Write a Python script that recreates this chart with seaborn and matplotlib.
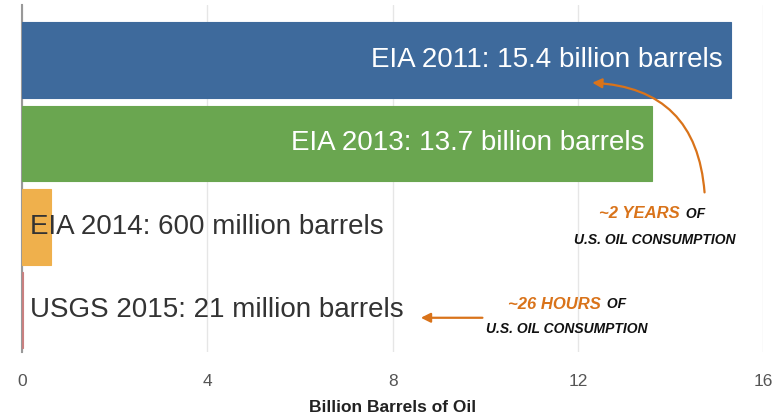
import matplotlib
matplotlib.use("Agg")
import matplotlib.pyplot as plt
import seaborn as sns
import pandas as pd

categories = ["EIA 2011", "EIA 2013", "EIA 2014", "USGS 2015"]
values = [15.3, 13.6, 0.62, 0.03]
labels = ["EIA 2011: 15.4 billion barrels", "EIA 2013: 13.7 billion barrels",
          "EIA 2014: 600 million barrels", "USGS 2015: 21 million barrels"]
colors = ["#3e6a9c", "#6aa650", "#efb04c", "#c98080"]
xticks = [0, 4, 8, 12, 16]

sns.set_theme(style="white")
plt.rcParams['font.family'] = ['Liberation Sans', 'DejaVu Sans']

df = pd.DataFrame({"cat": categories, "val": values})

fig = plt.figure(figsize=(7.76, 4.2), dpi=100)
ax = fig.add_axes([0.0284, 0.162, 0.955, 0.826])

sns.barplot(data=df, x="val", y="cat", hue="cat", palette=colors, legend=False,
            width=0.91, ax=ax, saturation=1, linewidth=0)
for patch, c in zip(ax.patches, colors):
    patch.set_edgecolor(c)
    patch.set_linewidth(0.8)
    patch.set_zorder(3)

ax.set_xlim(0, 16)
ax.set_ylim(3.5, -0.66)
ax.set_xticks(xticks)
ax.set_xticklabels([str(t) for t in xticks], color="#555555", fontsize=12.5,
                   family=['Liberation Sans Narrow', 'Liberation Sans'])
ax.tick_params(axis="x", length=0, pad=16)
ax.set_yticks([])
ax.set_ylabel("")
ax.set_xlabel("Billion Barrels of Oil", fontsize=12.5, fontweight="bold",
              color="#222222", labelpad=8)
ax.grid(axis="x", color="#e6e6e6", linewidth=1)
ax.set_axisbelow(True)
for s in ["top", "right", "bottom"]:
    ax.spines[s].set_visible(False)
ax.spines["left"].set_color("#999999")
ax.spines["left"].set_linewidth(1.5)

for i, (v, lab) in enumerate(zip(values, labels)):
    if v > 5:
        ax.text(v - 0.17, i, lab, ha="right", va="center", color="white",
                fontsize=20, zorder=4)
    else:
        ax.text(0.17, i, lab, ha="left", va="center", color="#333333",
                fontsize=20, zorder=4)

orange = "#d9731a"
ann_kw = dict(fontweight="bold", fontstyle="italic")
# annotation 1
ax.annotate("", xy=(12.25, 0.27), xytext=(14.74, 1.62),
            arrowprops=dict(arrowstyle="-|>", color=orange, lw=1.6,
                            connectionstyle="arc3,rad=0.45", mutation_scale=14),
            zorder=5)
ax.text(14.2, 1.84, "~2 YEARS", ha="right", va="center", color=orange,
        fontsize=12, **ann_kw)
ax.text(14.25, 1.84, " OF", ha="left", va="center", color="#111111",
        fontsize=10, **ann_kw)
ax.text(13.67, 2.16, "U.S. OIL CONSUMPTION", ha="center", va="center",
        color="#111111", fontsize=10, **ann_kw)

# annotation 2
ax.annotate("", xy=(8.55, 3.09), xytext=(10.0, 3.09),
            arrowprops=dict(arrowstyle="-|>", color=orange, lw=1.6,
                            mutation_scale=14))
ax.text(12.5, 2.93, "~26 HOURS", ha="right", va="center", color=orange,
        fontsize=12, **ann_kw)
ax.text(12.55, 2.93, " OF", ha="left", va="center", color="#111111",
        fontsize=10, **ann_kw)
ax.text(11.77, 3.23, "U.S. OIL CONSUMPTION", ha="center", va="center",
        color="#111111", fontsize=10, **ann_kw)

fig.savefig("out.png", dpi=100)
